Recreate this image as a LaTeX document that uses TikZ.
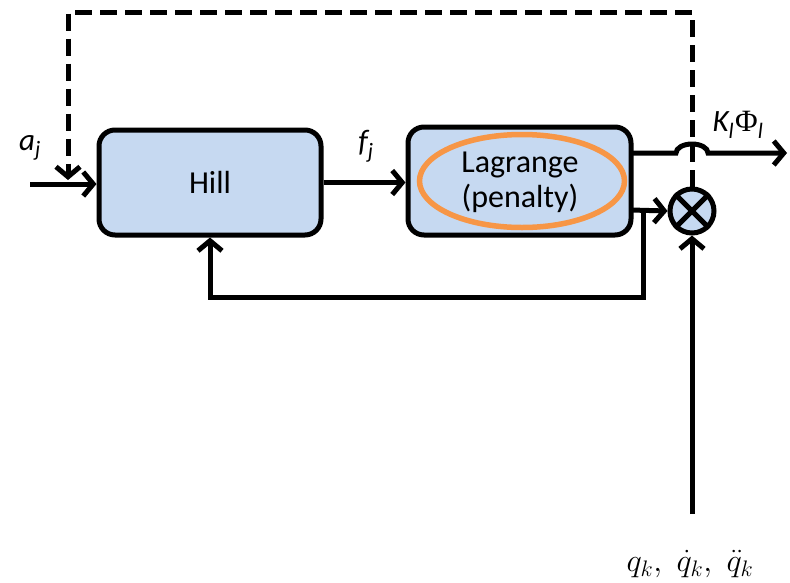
\documentclass[tikz,border=0pt]{standalone}
\usepackage{fontspec}
\setmainfont{Carlito}
\newfontfamily\greekserif{Liberation Serif}
\usetikzlibrary{arrows.meta,shapes.geometric,calc}
\definecolor{boxblue}{HTML}{C6D9F1}
\definecolor{ringorange}{HTML}{F79646}

\begin{document}
\begin{tikzpicture}[x=1pt,y=-1pt,line width=5pt,
  >={Straight Barb[length=10pt,width=24pt]},
  block/.style={draw,fill=boxblue,rounded corners=16pt,inner sep=0pt,
    align=center,font=\fontsize{32}{35}\selectfont},
  mixer/.style={draw,circle,fill=boxblue,minimum size=44pt,inner sep=0pt},
  ring/.style={draw=ringorange,line width=5.5pt,ellipse,inner sep=0pt,
    minimum width=205pt,minimum height=93pt},
  feedback/.style={dash pattern=on 17pt off 8pt},
  lbl/.style={font=\fontsize{31}{34}\selectfont\itshape,inner sep=0pt}]
\useasboundingbox (0,0) rectangle (790,582);

% blocks
\node[block,minimum width=222pt,minimum height=105pt] (hill) at (210,182.5) {Hill};
\node[block,minimum width=223pt,minimum height=108pt] (lag) at (519.5,181) {};
\node[ring] (ring) at (522,181) {};
\node[align=center,font=\fontsize{32}{35}\selectfont,inner sep=0pt] (lagtxt) at (520,182) {Lagrange\\(penalty)};

% multiplier
\node[mixer] (mul) at (692,211) {};
\draw (mul.45) -- (mul.225) (mul.135) -- (mul.315);

% helper points
\coordinate (ain) at (30,184);
\coordinate (dtop) at (692,12);
\coordinate (dleft) at (68,12);
\coordinate (dtip) at (68,180);
\coordinate (topout) at (631,153);
\coordinate (jump) at (676,153);
\coordinate (out) at (787,153);
\coordinate (lowout) at (631,210);
\coordinate (split) at (643,210);
\coordinate (fbot) at (643,297);
\coordinate (qsrc) at (692,514);

% labels
\node[lbl] (alab) at (30,148) {a\textsubscript{\fontsize{22}{22}\selectfont j}};
\node[lbl] (flab) at (366,146) {f\textsubscript{\fontsize{22}{22}\selectfont j}};
\node[lbl] (klab) at (738,125) {K\textsubscript{\fontsize{22}{22}\selectfont l}\kern1pt{\upshape\greekserif Φ}\textsubscript{\fontsize{22}{22}\selectfont l}};
\node[inner sep=0pt,font=\fontsize{24}{28}\selectfont,scale=1.3] (qlab) at (690,564) {$q_k,\;\dot q_k,\;\ddot q_k$};

% connectors
\draw[->] (ain) -- (hill.west |- ain);
\draw[->,feedback] (mul.north) -- (dtop) -- (dleft) -- (dtip);
\draw[->] (hill.east) -- (lag.west |- hill.east);
\draw[->] (topout) -- (jump) arc[start angle=180,end angle=360,x radius=16,y radius=9] -- (out);
\draw[->] (lowout) -- (mul.west);
\draw[->] (split) -- (fbot) -- (hill.south |- fbot) -- (hill.south);
\draw[->] (qsrc) -- (mul.south);
\end{tikzpicture}
\end{document}
